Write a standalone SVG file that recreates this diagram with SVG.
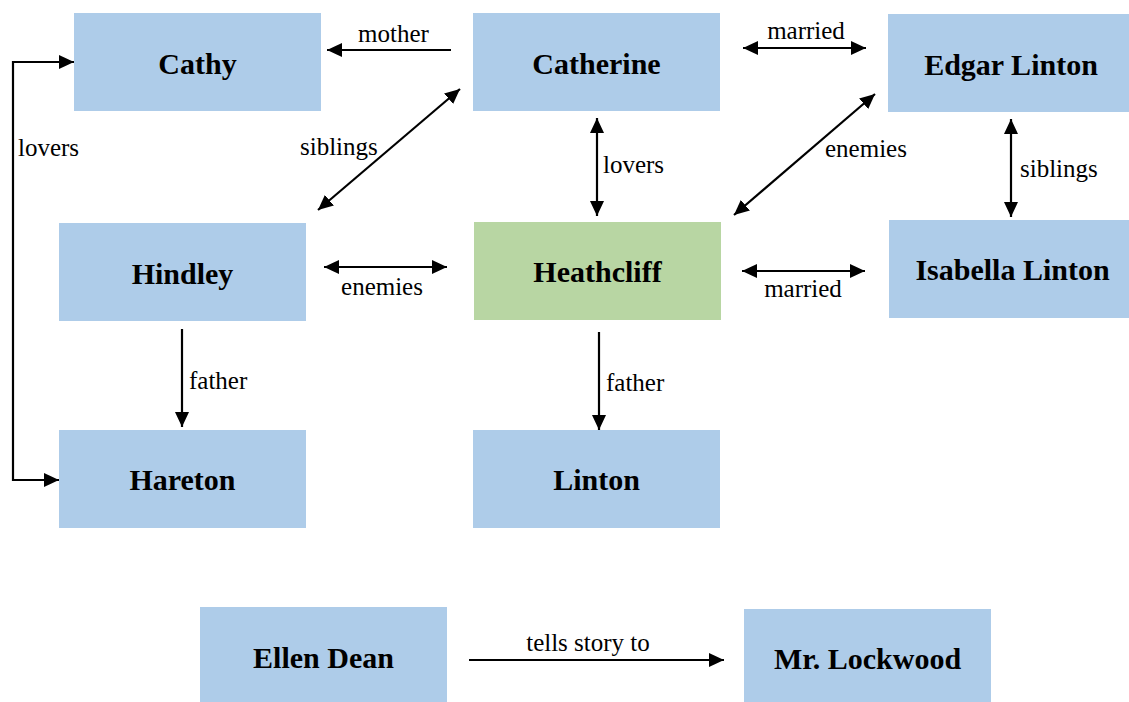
<svg xmlns="http://www.w3.org/2000/svg" width="1129" height="702" viewBox="0 0 1129 702">
<style>
.box{fill:#aecce9}
.hub{fill:#b8d6a3}
.nt{font-family:'Liberation Serif',serif;font-weight:bold;font-size:30px;fill:#000;text-anchor:middle}
.lb{font-family:'Liberation Serif',serif;font-size:25px;fill:#000}
.ln{stroke:#000;stroke-width:2.2;fill:none}
.one{marker-end:url(#ah)}
.two{marker-start:url(#ah);marker-end:url(#ah)}
</style>
<defs>
<marker id="ah" markerUnits="userSpaceOnUse" markerWidth="16" markerHeight="16" refX="15" refY="7" orient="auto-start-reverse" viewBox="0 0 16 14">
<path d="M0,0 L15,7 L0,14 z" fill="#000"/>
</marker>
</defs>
<rect width="1129" height="702" fill="#fff"/>
<g id="cathy"><rect class="box" x="74" y="13" width="247" height="98"/><text class="nt" x="197.5" y="74">Cathy</text></g>
<g id="catherine"><rect class="box" x="473" y="13" width="247" height="98"/><text class="nt" x="596.5" y="74">Catherine</text></g>
<g id="edgar"><rect class="box" x="888" y="14" width="247" height="98"/><text class="nt" x="1011" y="75">Edgar Linton</text></g>
<g id="hindley"><rect class="box" x="59" y="223" width="247" height="98"/><text class="nt" x="182.5" y="284">Hindley</text></g>
<g id="heathcliff"><rect class="hub" x="474" y="222" width="247" height="98"/><text class="nt" x="597.5" y="282">Heathcliff</text></g>
<g id="isabella"><rect class="box" x="889" y="220" width="247" height="98"/><text class="nt" x="1012.5" y="280">Isabella Linton</text></g>
<g id="hareton"><rect class="box" x="59" y="430" width="247" height="98"/><text class="nt" x="182.5" y="490">Hareton</text></g>
<g id="linton"><rect class="box" x="473" y="430" width="247" height="98"/><text class="nt" x="596.5" y="490">Linton</text></g>
<g id="ellen"><rect class="box" x="200" y="607" width="247" height="98"/><text class="nt" x="323.5" y="668">Ellen Dean</text></g>
<g id="lockwood"><rect class="box" x="744" y="609" width="247" height="98"/><text class="nt" x="867.5" y="669">Mr. Lockwood</text></g>
<g id="connectors">
<line class="ln one" x1="451" y1="50" x2="327" y2="50"/>
<text class="lb" x="393.5" y="42" text-anchor="middle">mother</text>
<polyline class="ln two" points="74,62 13,62 13,480 59,480"/>
<text class="lb" x="18" y="156">lovers</text>
<line class="ln two" x1="460" y1="89" x2="318" y2="210"/>
<text class="lb" x="300" y="155">siblings</text>
<line class="ln two" x1="743" y1="48" x2="866" y2="48"/>
<text class="lb" x="806" y="39" text-anchor="middle">married</text>
<line class="ln two" x1="597" y1="118" x2="597" y2="216"/>
<text class="lb" x="603" y="173">lovers</text>
<line class="ln two" x1="875" y1="94" x2="734" y2="215"/>
<text class="lb" x="825" y="157">enemies</text>
<line class="ln two" x1="1011" y1="119" x2="1011" y2="217"/>
<text class="lb" x="1020" y="177">siblings</text>
<line class="ln two" x1="324" y1="267" x2="447" y2="267"/>
<text class="lb" x="382" y="295" text-anchor="middle">enemies</text>
<line class="ln two" x1="742" y1="271" x2="865" y2="271"/>
<text class="lb" x="803" y="297" text-anchor="middle">married</text>
<line class="ln one" x1="182" y1="329" x2="182" y2="427"/>
<text class="lb" x="189" y="389">father</text>
<line class="ln one" x1="599" y1="332" x2="599" y2="430"/>
<text class="lb" x="606" y="391">father</text>
<line class="ln one" x1="469" y1="660" x2="724" y2="660"/>
<text class="lb" x="588" y="651" text-anchor="middle">tells story to</text>
</g>
</svg>
